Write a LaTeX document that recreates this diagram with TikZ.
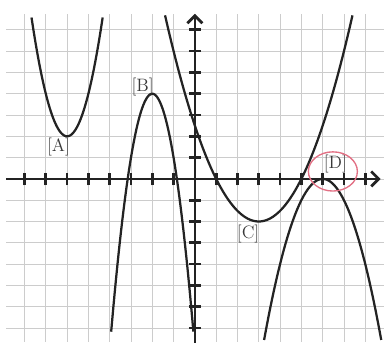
\documentclass[tikz,border=0pt]{standalone}
\usepackage{tikz}
\usetikzlibrary{arrows.meta}
\definecolor{pen}{RGB}{35,35,35}
\definecolor{marker}{RGB}{226,112,132}

\begin{document}
\begin{tikzpicture}[x=0.5cm,y=0.5cm,
  curve/.style={pen,line width=1.5pt,smooth,samples=60},
  tag/.style={text=pen!90,font=\large,inner sep=1pt}]
  \useasboundingbox (-9.15,-8.03) rectangle (8.88,8.40);
  % grid
  \foreach \x in {-8,...,8}
    \draw[gray!40,line width=0.5pt] (\x,-7.65)--(\x,7.75);
  \foreach \y in {-7,...,7}
    \draw[gray!40,line width=0.5pt] (-8.85,\y)--(8.88,\y);
  % axes
  \coordinate (xstart) at (-8.85,0);
  \coordinate (xend) at (8.72,0);
  \coordinate (ystart) at (0,-7.7);
  \coordinate (yend) at (0,7.75);
  \draw[pen,line width=1.8pt,-{Straight Barb[length=5pt,width=10pt]}] (xstart)--(xend);
  \draw[pen,line width=1.8pt,-{Straight Barb[length=5pt,width=10pt]}] (ystart)--(yend);
  \foreach \x in {-8,...,-1,1,2,...,8}
    \draw[pen,line width=1.8pt] (\x,-0.3)--(\x,0.3);
  \foreach \y in {-7,...,-1,1,2,...,7}
    \draw[pen,line width=1.8pt] (-0.28,\y)--(0.3,\y);
  % parabolas
  \draw[curve,domain=-7.67:-4.33] plot (\x,{2*(\x+6)^2+2});
  \draw[curve,domain=-3.93:-0.07] plot (\x,{-3*(\x+2)^2+4});
  \draw[curve,domain=-1.4:7.4] plot (\x,{0.5*(\x-3)^2-2});
  \draw[curve,domain=3.25:8.75] plot (\x,{-(\x-6)^2});
  % labels
  \node[tag] (labA) at (-6.4,1.5) {[A]};
  \node[tag] (labB) at (-2.45,4.3) {[B]};
  \node[tag] (labC) at (2.5,-2.6) {[C]};
  \node[tag] (labD) at (6.6,0.72) {[D]};
  \draw[marker,line width=0.9pt] (6.48,0.35) ellipse (1.15 and 0.92);
\end{tikzpicture}
\end{document}
